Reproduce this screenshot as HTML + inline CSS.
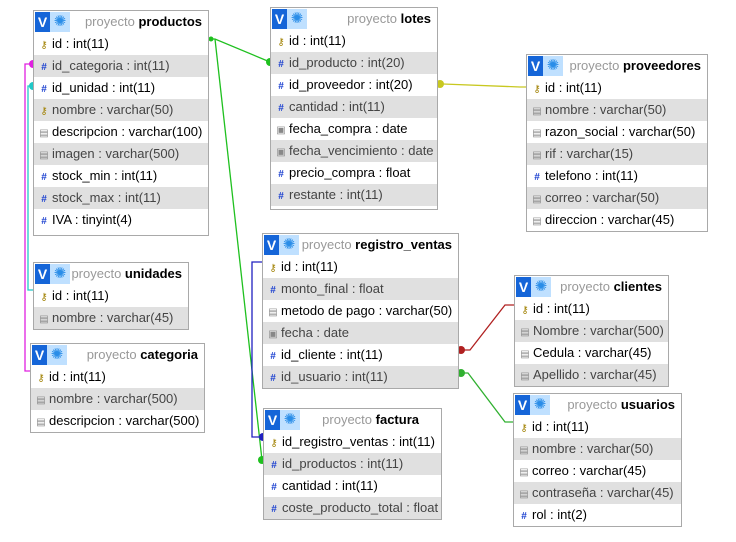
<!DOCTYPE html>
<html><head><meta charset="utf-8"><style>
body{margin:0;width:736px;height:542px;background:#fff;position:relative;overflow:hidden;font-family:"Liberation Sans",Arial,sans-serif;font-size:13px;color:#000}
.t{position:absolute;border:1px solid #a9a9a9;background:#fff;box-sizing:border-box}
.h{height:22px;position:relative;white-space:nowrap;line-height:22px}
.v{position:absolute;left:1px;top:1px;width:15px;height:20px;background:#1565d8;color:#fff;font-weight:bold;font-size:14px;line-height:20px;text-align:center}
.g{position:absolute;left:16px;top:1px;width:20px;height:20px;background:#bfe0ff;color:#2a8de8;font-size:15px;line-height:20px;text-align:center}
.h .n{position:absolute;right:6px;top:0;color:#999}
.h .n b{color:#000}
.r{height:22px;line-height:22px;padding-left:4px;white-space:nowrap;color:#000;background:#fff}
.r:nth-child(even){background:#e0e0e0;color:#444}
.i{display:inline-block;width:12px;font-size:10px;text-align:center;margin-right:2px}
.k{color:#a08000;font-size:10px}
.hs{color:#1a3fd0;font-weight:bold}
.d{color:#888;font-size:10px}
svg{position:absolute;left:0;top:0}
</style></head><body>
<svg width="736" height="542">
<g fill="none" stroke-width="1.3">
<polyline points="208,39 215,39 270,62" stroke="#1fc01f"/>
<polyline points="215,39 262,460" stroke="#1fc01f"/>
<polyline points="437,84 443,84 520,87 526,87" stroke="#c8c820"/>
<polyline points="33,64 25,64 25,371 30,371" stroke="#e020e0"/>
<polyline points="33,86 28,86 28,290 33,290" stroke="#20c8c8"/>
<polyline points="262,262 252,262 252,437 263,437" stroke="#2020c0"/>
<polyline points="458,350 470,350 505,305 514,305" stroke="#b02020"/>
<polyline points="458,373 468,373 505,422 513,422" stroke="#30b030"/>
</g>
<circle cx="211" cy="39" r="2.5" fill="#1fc01f"/>
<circle cx="270" cy="62" r="4" fill="#1fc01f"/>
<circle cx="262" cy="460" r="4" fill="#1fc01f"/>
<circle cx="440" cy="84" r="4" fill="#c8c820"/>
<circle cx="33" cy="64" r="4" fill="#e020e0"/>
<circle cx="33" cy="86" r="4" fill="#20c8c8"/>
<circle cx="263" cy="437" r="4" fill="#2020c0"/>
<circle cx="461" cy="350" r="4" fill="#b02020"/>
<circle cx="461" cy="373" r="4" fill="#30b030"/>
</svg>

<div class="t" style="left:33px;top:10px;width:176px;height:226px">
<div class="h"><span class="v">V</span><span class="g">✺</span><span class="n">proyecto <b>productos</b></span></div>
<div>
<div class="r"><span class="i k">⚷</span>id : int(11)</div>
<div class="r"><span class="i hs">#</span>id_categoria : int(11)</div>
<div class="r"><span class="i hs">#</span>id_unidad : int(11)</div>
<div class="r"><span class="i k">⚷</span>nombre : varchar(50)</div>
<div class="r"><span class="i d">▤</span>descripcion : varchar(100)</div>
<div class="r"><span class="i d">▤</span>imagen : varchar(500)</div>
<div class="r"><span class="i hs">#</span>stock_min : int(11)</div>
<div class="r"><span class="i hs">#</span>stock_max : int(11)</div>
<div class="r"><span class="i hs">#</span>IVA : tinyint(4)</div>
</div></div>

<div class="t" style="left:270px;top:7px;width:168px;height:203px">
<div class="h"><span class="v">V</span><span class="g">✺</span><span class="n">proyecto <b>lotes</b></span></div>
<div>
<div class="r"><span class="i k">⚷</span>id : int(11)</div>
<div class="r"><span class="i hs">#</span>id_producto : int(20)</div>
<div class="r"><span class="i hs">#</span>id_proveedor : int(20)</div>
<div class="r"><span class="i hs">#</span>cantidad : int(11)</div>
<div class="r"><span class="i d">▣</span>fecha_compra : date</div>
<div class="r"><span class="i d">▣</span>fecha_vencimiento : date</div>
<div class="r"><span class="i hs">#</span>precio_compra : float</div>
<div class="r"><span class="i hs">#</span>restante : int(11)</div>
</div></div>

<div class="t" style="left:526px;top:54px;width:182px;height:178px">
<div class="h"><span class="v">V</span><span class="g">✺</span><span class="n">proyecto <b>proveedores</b></span></div>
<div>
<div class="r"><span class="i k">⚷</span>id : int(11)</div>
<div class="r"><span class="i d">▤</span>nombre : varchar(50)</div>
<div class="r"><span class="i d">▤</span>razon_social : varchar(50)</div>
<div class="r"><span class="i d">▤</span>rif : varchar(15)</div>
<div class="r"><span class="i hs">#</span>telefono : int(11)</div>
<div class="r"><span class="i d">▤</span>correo : varchar(50)</div>
<div class="r"><span class="i d">▤</span>direccion : varchar(45)</div>
</div></div>

<div class="t" style="left:33px;top:262px;width:156px;height:68px">
<div class="h"><span class="v">V</span><span class="g">✺</span><span class="n">proyecto <b>unidades</b></span></div>
<div>
<div class="r"><span class="i k">⚷</span>id : int(11)</div>
<div class="r"><span class="i d">▤</span>nombre : varchar(45)</div>
</div></div>

<div class="t" style="left:30px;top:343px;width:175px;height:90px">
<div class="h"><span class="v">V</span><span class="g">✺</span><span class="n">proyecto <b>categoria</b></span></div>
<div>
<div class="r"><span class="i k">⚷</span>id : int(11)</div>
<div class="r"><span class="i d">▤</span>nombre : varchar(500)</div>
<div class="r"><span class="i d">▤</span>descripcion : varchar(500)</div>
</div></div>

<div class="t" style="left:262px;top:233px;width:197px;height:156px">
<div class="h"><span class="v">V</span><span class="g">✺</span><span class="n">proyecto <b>registro_ventas</b></span></div>
<div>
<div class="r"><span class="i k">⚷</span>id : int(11)</div>
<div class="r"><span class="i hs">#</span>monto_final : float</div>
<div class="r"><span class="i d">▤</span>metodo de pago : varchar(50)</div>
<div class="r"><span class="i d">▣</span>fecha : date</div>
<div class="r"><span class="i hs">#</span>id_cliente : int(11)</div>
<div class="r"><span class="i hs">#</span>id_usuario : int(11)</div>
</div></div>

<div class="t" style="left:263px;top:408px;width:179px;height:112px">
<div class="h"><span class="v">V</span><span class="g">✺</span><span class="n" style="right:22px">proyecto <b>factura</b></span></div>
<div>
<div class="r"><span class="i k">⚷</span>id_registro_ventas : int(11)</div>
<div class="r"><span class="i hs">#</span>id_productos : int(11)</div>
<div class="r"><span class="i hs">#</span>cantidad : int(11)</div>
<div class="r"><span class="i hs">#</span>coste_producto_total : float</div>
</div></div>

<div class="t" style="left:514px;top:275px;width:155px;height:112px">
<div class="h"><span class="v">V</span><span class="g">✺</span><span class="n">proyecto <b>clientes</b></span></div>
<div>
<div class="r"><span class="i k">⚷</span>id : int(11)</div>
<div class="r"><span class="i d">▤</span>Nombre : varchar(500)</div>
<div class="r"><span class="i d">▤</span>Cedula : varchar(45)</div>
<div class="r"><span class="i d">▤</span>Apellido : varchar(45)</div>
</div></div>

<div class="t" style="left:513px;top:393px;width:169px;height:134px">
<div class="h"><span class="v">V</span><span class="g">✺</span><span class="n">proyecto <b>usuarios</b></span></div>
<div>
<div class="r"><span class="i k">⚷</span>id : int(11)</div>
<div class="r"><span class="i d">▤</span>nombre : varchar(50)</div>
<div class="r"><span class="i d">▤</span>correo : varchar(45)</div>
<div class="r"><span class="i d">▤</span>contraseña : varchar(45)</div>
<div class="r"><span class="i hs">#</span>rol : int(2)</div>
</div></div>
</body></html>
